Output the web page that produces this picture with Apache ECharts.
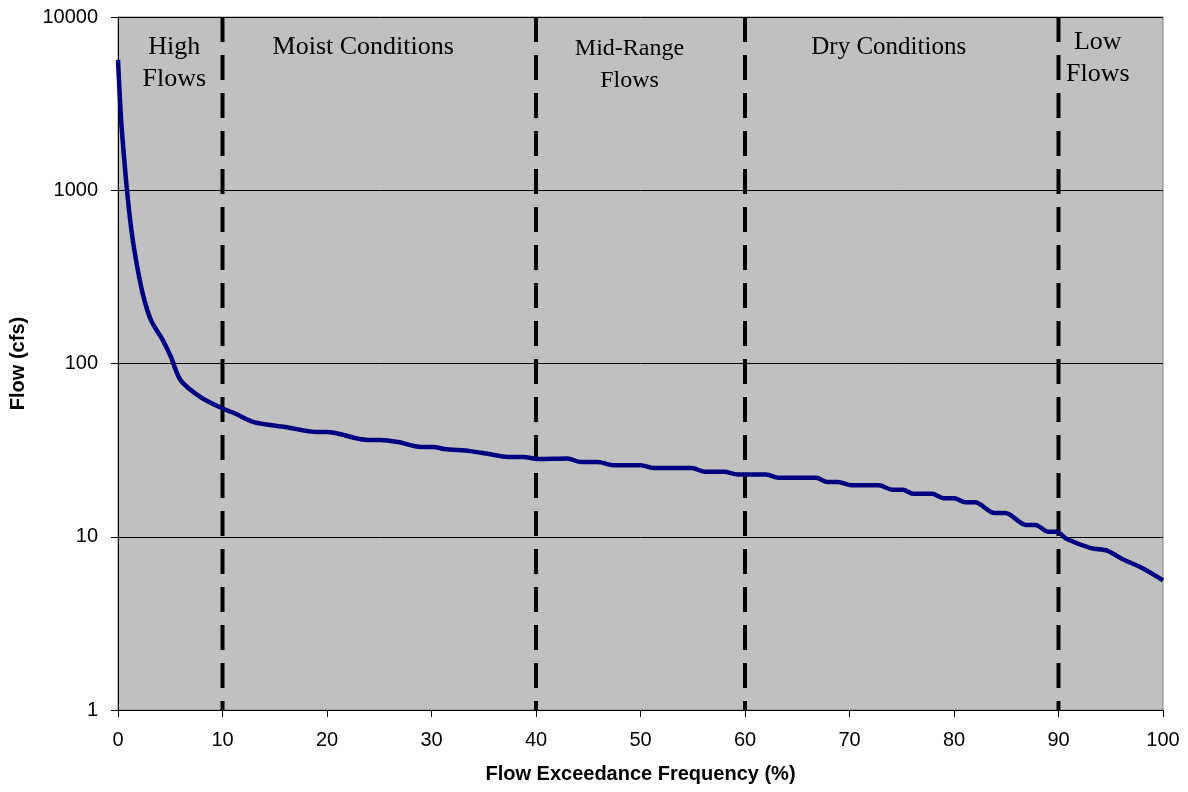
<!DOCTYPE html>
<html><head><meta charset="utf-8">
<script src="https://cdn.jsdelivr.net/npm/echarts@6/dist/echarts.min.js"></script>
<style>html,body{margin:0;padding:0;background:#fff}#c{width:1188px;height:792px}</style>
</head><body><div id="c"></div>
<script>
// Flow duration curve: exceedance frequency (%) vs flow (cfs)
const exceedance = [0, 0.3, 0.6, 0.86, 1.24, 1.72, 2.36, 3.15, 4.27, 5.07, 6.0, 7.9, 10.0, 11.1, 13.0, 16.0, 19.1, 20.0, 23.9, 25.1, 26.8, 29.0, 30.2, 31.2, 33.7, 35.4, 37.3, 38.8, 40.2, 43.0, 44.3, 45.9, 47.4, 50.0, 51.3, 54.9, 56.2, 58.0, 59.3, 62.0, 63.2, 66.8, 67.9, 68.9, 70.2, 72.8, 74.1, 75.1, 76.1, 77.9, 79.0, 80.0, 81.1, 82.0, 83.9, 84.9, 86.9, 87.8, 89.0, 89.8, 90.8, 93.1, 94.7, 96.0, 98.0, 100.0];
const flow = [5650, 2540, 1500, 1000, 616, 396, 254, 178, 137, 109, 80, 64, 55, 51.8, 45.9, 43, 40.2, 40.2, 36.2, 36.2, 35.2, 33, 33, 32.1, 31.2, 30.1, 28.9, 28.9, 28.1, 28.3, 27, 27, 25.9, 25.9, 24.9, 24.9, 23.7, 23.7, 22.9, 22.9, 21.9, 21.9, 20.7, 20.7, 19.8, 19.8, 18.7, 18.7, 17.7, 17.7, 16.7, 16.7, 15.8, 15.8, 13.7, 13.7, 11.7, 11.7, 10.7, 10.7, 9.7, 8.6, 8.3, 7.5, 6.6, 5.6];
const zoneBounds = [0, 10, 40, 60, 90, 100];
const zoneNames = ['High\nFlows', 'Moist Conditions', 'Mid-Range\nFlows', 'Dry Conditions', 'Low\nFlows'];
const dividers = [10, 40, 60, 90];
const yTicks = [1, 10, 100, 1000, 10000];
const xTicks = [0, 10, 20, 30, 40, 50, 60, 70, 80, 90, 100];

const labelStyles = [
  {offset: [4, 9], fontSize: 26},
  {offset: [-16, 9], fontSize: 26},
  {offset: [-11, 11], fontSize: 24},
  {offset: [-13, 9], fontSize: 25},
  {offset: [-13, 4], fontSize: 26}
];

const chart = echarts.init(document.getElementById('c'), null, {renderer: 'canvas'});
const curve = exceedance.map((x, i) => [x, flow[i]]);

const series = [];
series.push({
  type: 'line', name: 'zones', data: [], silent: true,
  markArea: {
    silent: true,
    itemStyle: {color: 'rgba(0,0,0,0)'},
    data: zoneNames.map((n, i) => [
      {xAxis: zoneBounds[i], yAxis: 10000, name: n,
       label: {show: true, position: 'insideTop', offset: labelStyles[i].offset,
         formatter: n, fontFamily: 'Liberation Serif', fontSize: labelStyles[i].fontSize,
         lineHeight: 32, color: '#000'}},
      {xAxis: zoneBounds[i + 1], yAxis: 1}
    ])
  }
});
dividers.forEach(d => {
  series.push({
    type: 'line', data: [[d, 10000], [d, 1]], symbol: 'none', silent: true,
    lineStyle: {color: '#000', width: 4, type: [25, 13]}, z: 3
  });
});
series.push({
  type: 'line', data: curve, symbol: 'none', smooth: 0.3, z: 4,
  lineStyle: {color: '#000080', width: 4.5}
});

chart.setOption({
  animation: false,
  backgroundColor: '#fff',
  grid: {left: 117, right: 25, top: 17, bottom: 82, show: true, backgroundColor: '#c0c0c0', borderColor: '#808080', borderWidth: 1},
  xAxis: {
    type: 'value', min: 0, max: 100, interval: 10,
    name: 'Flow Exceedance Frequency (%)', nameLocation: 'middle', nameGap: 54,
    nameTextStyle: {fontFamily: 'Liberation Sans', fontWeight: 'bold', fontSize: 20, color: '#000'},
    axisLine: {show: true, lineStyle: {color: '#000', width: 1}},
    axisTick: {show: true, length: 7, lineStyle: {color: '#000'}},
    axisLabel: {fontFamily: 'Liberation Sans', fontSize: 20, color: '#000', margin: 20},
    splitLine: {show: false}
  },
  yAxis: {
    type: 'log', logBase: 10, min: 1, max: 10000,
    name: 'Flow (cfs)', nameLocation: 'middle', nameGap: 90, nameRotate: 90,
    nameTextStyle: {fontFamily: 'Liberation Sans', fontWeight: 'bold', fontSize: 20, color: '#000'},
    axisLine: {show: true, lineStyle: {color: '#000', width: 1}},
    axisTick: {show: true, length: 7, lineStyle: {color: '#000'}},
    axisLabel: {fontFamily: 'Liberation Sans', fontSize: 20, color: '#000', margin: 20,
      formatter: v => String(Math.round(v))},
    splitLine: {show: true, lineStyle: {color: '#000', width: 1}},
    minorTick: {show: false}
  },
  series: series
});
</script></body></html>
